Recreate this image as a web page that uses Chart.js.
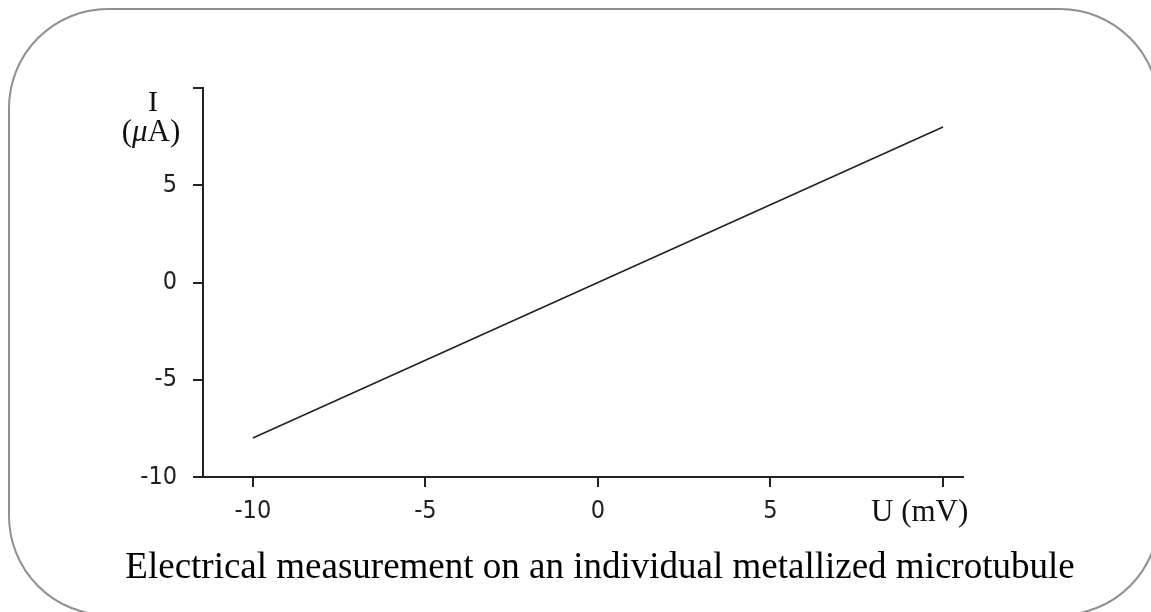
<!DOCTYPE html>
<html>
<head>
<meta charset="utf-8">
<script src="https://cdn.jsdelivr.net/npm/chart.js@4/dist/chart.umd.min.js"></script>
<style>
  html, body { margin: 0; padding: 0; background: #fff; overflow: hidden; }
  body { width: 1151px; height: 612px; position: relative; }
  #frame {
    position: absolute; left: 8px; top: 8px; width: 1152px; height: 608px;
    box-sizing: border-box; border: 2px solid #8f8f8f; border-radius: 100px;
  }
  #c { position: absolute; left: 0; top: 0; }
  .lbl { position: absolute; font-family: "Liberation Serif", "DejaVu Serif", serif; color: #111; white-space: nowrap; }
  #yTitle1 { left: 140px; top: 84px; width: 26px; text-align: center; font-size: 30px; }
  #yTitle2 { left: 111px; top: 113px; width: 80px; text-align: center; font-size: 31px; }
  #xTitle { left: 871px; top: 493px; font-size: 31px; }
  #caption { left: 0; width: 1200px; top: 544px; text-align: center; font-size: 37px; color: #000; }
</style>
</head>
<body>
<div id="frame"></div>
<canvas id="c" width="1151" height="612"></canvas>
<div class="lbl" id="yTitle1">I</div>
<div class="lbl" id="yTitle2">(<i>μ</i>A)</div>
<div class="lbl" id="xTitle">U (mV)</div>
<div class="lbl" id="caption">Electrical measurement on an individual metallized microtubule</div>
<script>
// measured I-U line (mV, uA)
const voltage = [-10, 10];
const current = [-8, 8];
const xTicks = [-10, -5, 0, 5, 10];
const yTicks = [-10, -5, 0, 5, 10];

const tickFont = { family: "'Liberation Sans Narrow', 'DejaVu Sans Condensed', sans-serif", size: 25 };

new Chart(document.getElementById("c"), {
  type: "scatter",
  data: {
    datasets: [{
      data: voltage.map((v, i) => ({ x: v, y: current[i] })),
      showLine: true,
      borderColor: "#222",
      borderWidth: 1.6,
      pointRadius: 0
    }]
  },
  options: {
    responsive: false,
    animation: false,
    layout: { padding: { left: 103, top: 88, right: 188, bottom: 90 } },
    plugins: { legend: { display: false }, tooltip: { enabled: false } },
    scales: {
      x: {
        type: "linear",
        min: -11.445,
        max: 10.58,
        afterBuildTicks: (s) => { s.ticks = xTicks.map(v => ({ value: v })); },
        afterFit: (s) => { s.height = 45; },
        border: { display: true, color: "#222", width: 2 },
        grid: { drawOnChartArea: false, drawTicks: true, tickLength: 10, color: "#222", lineWidth: 2 },
        ticks: {
          font: tickFont, color: "#222", padding: 9, maxRotation: 0,
          callback: (v) => v === 10 ? "" : String(v)
        }
      },
      y: {
        type: "linear",
        min: -10,
        max: 10,
        afterBuildTicks: (s) => { s.ticks = yTicks.map(v => ({ value: v })); },
        afterFit: (s) => { s.width = 100; },
        border: { display: true, color: "#222", width: 2 },
        grid: { drawOnChartArea: false, drawTicks: true, tickLength: 10, color: "#222", lineWidth: 2 },
        ticks: {
          font: tickFont, color: "#222", padding: 16,
          callback: (v) => v === 10 ? "" : String(v)
        }
      }
    }
  }
});
</script>
</body>
</html>
